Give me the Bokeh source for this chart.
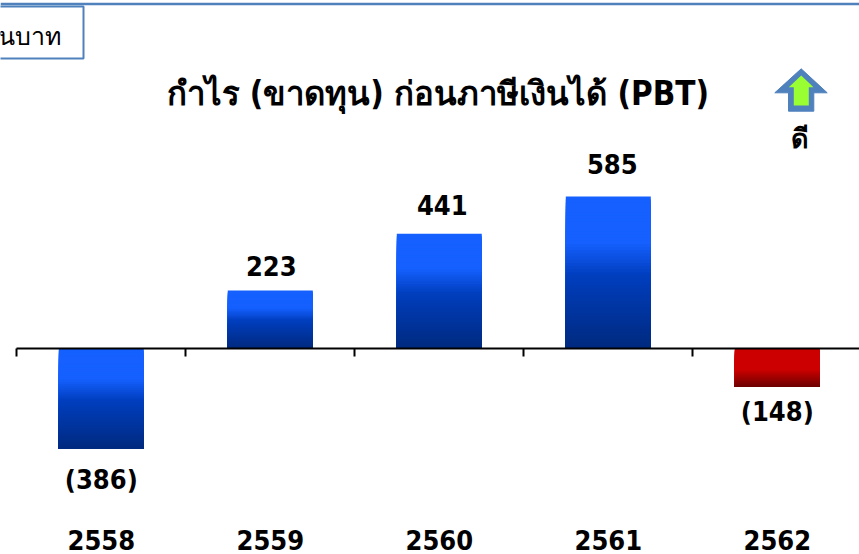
from bokeh.plotting import figure
from bokeh.embed import file_html
from bokeh.resources import INLINE
from bokeh.models import (Range1d, LinearAxis, FixedTicker, ColumnDataSource, Label,
                          BoxAnnotation, PolyAnnotation, Span)
from bokeh.core.properties import value

years = ["2558", "2559", "2560", "2561", "2562"]
pbt = [-386, 223, 441, 585, -148]
labels = ["(386)", "223", "441", "585", "(148)"]
title_text = "กำไร (ขาดทุน) ก่อนภาษีเงินได้ (PBT)"
unit_text = "ล้านบาท"
good_text = "ดี"

BLUE_STOPS = [(0.0, (21, 96, 255)), (0.3, (21, 96, 255)), (0.52, (0, 62, 190)), (1.0, (0, 42, 128))]
RED_STOPS = [(0.0, (204, 0, 0)), (0.55, (204, 0, 0)), (1.0, (110, 0, 0))]
bar_stops = [BLUE_STOPS, BLUE_STOPS, BLUE_STOPS, BLUE_STOPS, RED_STOPS]
label_offsets_y = [31, -25, -29, -32, 25]
label_offsets_x = [0, 1, 3, 4, 0]

W, H = 859, 554
FONT = "DejaVu Sans Condensed"
PX_PER_UNIT = 0.26
ZERO_Y = 348
YEAR_AXIS_Y = 523
STEP = 169
CENTER0 = 100.8
BAR_W = 85 / STEP


def colour(stops, t):
    for (a, ca), (b, cb) in zip(stops, stops[1:]):
        if t <= b:
            f = (t - a) / (b - a) if b > a else 0
            return "#%02x%02x%02x" % tuple(round(x + (y - x) * f) for x, y in zip(ca, cb))
    return "#%02x%02x%02x" % stops[-1][1]


x_range = Range1d(-CENTER0 / STEP, (W - CENTER0) / STEP)
y_range = Range1d(-(H - ZERO_Y) / PX_PER_UNIT, ZERO_Y / PX_PER_UNIT)

p = figure(width=W, height=H, frame_width=W, frame_height=H,
           x_range=x_range, y_range=y_range, output_backend="svg", toolbar_location=None,
           x_axis_type=None, y_axis_type=None, min_border=0,
           outline_line_color=None, background_fill_color="white", border_fill_color="white")
p.grid.visible = False
p.styles = {"position": "absolute", "left": "0px", "top": "0px"}

# bars: each painted as overlapping slices to give the vertical gradient
N = 48
lefts, rights, tops, bottoms, cols = [], [], [], [], []
for i, v in enumerate(pbt):
    hi, lo = max(v, 0), min(v, 0)
    for k in range(N):
        t = k / (N - 1)
        lefts.append(i - BAR_W / 2)
        rights.append(i + BAR_W / 2)
        tops.append(hi - (hi - lo) * k / N)
        bottoms.append(lo)
        cols.append(colour(bar_stops[i], t))
p.quad(left=lefts, right=rights, top=tops, bottom=bottoms, fill_color=cols, line_color=None)

# zero line with ticks between categories
boundaries = [i - 0.5 for i in range(6)]
zero_axis = LinearAxis(fixed_location=0, ticker=FixedTicker(ticks=boundaries),
                       major_label_overrides={b: "" for b in boundaries},
                       major_tick_in=0, major_tick_out=8, minor_tick_line_color=None,
                       axis_line_color="black", axis_line_width=2,
                       major_tick_line_color="black", major_tick_line_width=2,
                       bounds=(-0.5, x_range.end))
p.add_layout(zero_axis, "below")

# year labels
year_axis = LinearAxis(fixed_location=-(YEAR_AXIS_Y - ZERO_Y) / PX_PER_UNIT,
                       ticker=FixedTicker(ticks=list(range(len(years)))),
                       major_label_overrides={i: y for i, y in enumerate(years)},
                       axis_line_color=None, major_tick_line_color=None, minor_tick_line_color=None,
                       major_label_text_font=FONT, major_label_text_font_style="bold",
                       major_label_text_font_size="27px", major_label_text_color="black",
                       major_label_standoff=0)
p.add_layout(year_axis, "below")

src = ColumnDataSource(dict(x=list(range(len(years))), y=pbt, t=labels,
                            ox=label_offsets_x, oy=label_offsets_y))
p.text(x="x", y="y", text="t", x_offset="ox", y_offset="oy", source=src, text_align="center",
       text_baseline="middle", text_font=value(FONT), text_font_style="bold", text_font_size="27px",
       text_color="black")

BORDER = "#4f81bd"


def sy(y):
    return H - y


p.add_layout(Label(x=166, y=sy(93), x_units="screen", y_units="screen", text=title_text, text_font=FONT,
                   text_font_style="bold", text_font_size="32.95px", text_color="black",
                   text_align="left", text_baseline="middle"))
p.add_layout(Span(location=sy(3.5), location_units="screen", dimension="width", line_color=BORDER, line_width=2.5))
p.add_layout(BoxAnnotation(left=-10, right=83, top=sy(6), bottom=sy(58), left_units="screen", right_units="screen",
                           top_units="screen", bottom_units="screen", fill_color="white", fill_alpha=1,
                           line_color=BORDER, line_width=2, line_alpha=1))
p.add_layout(Label(x=60, y=sy(34), x_units="screen", y_units="screen", text=unit_text, text_font="Noto Sans",
                   text_font_size="25px", text_color="black", text_align="right", text_baseline="middle"))
p.add_layout(PolyAnnotation(xs=[800.7, 826.7, 813.3, 813.3, 788, 788, 774.3],
                            ys=[sy(v) for v in [68.3, 92.3, 92.3, 110.7, 110.7, 92.3, 92.3]],
                            xs_units="screen", ys_units="screen", fill_color=BORDER, fill_alpha=1,
                            line_color=BORDER, line_alpha=1, line_width=1))
p.add_layout(PolyAnnotation(xs=[800.7, 813, 808.3, 808.3, 793.3, 793.3, 788.3],
                            ys=[sy(v) for v in [75, 86.7, 86.7, 105, 105, 86.7, 86.7]],
                            xs_units="screen", ys_units="screen", fill_color="#99ff33", fill_alpha=1,
                            line_color="#99ff33", line_alpha=1, line_width=0))
p.add_layout(Label(x=799, y=sy(138), x_units="screen", y_units="screen", text=good_text, text_font=FONT,
                   text_font_style="bold", text_font_size="27px", text_color="black",
                   text_align="center", text_baseline="middle"))

open("out.html", "w").write(file_html(p, INLINE))
